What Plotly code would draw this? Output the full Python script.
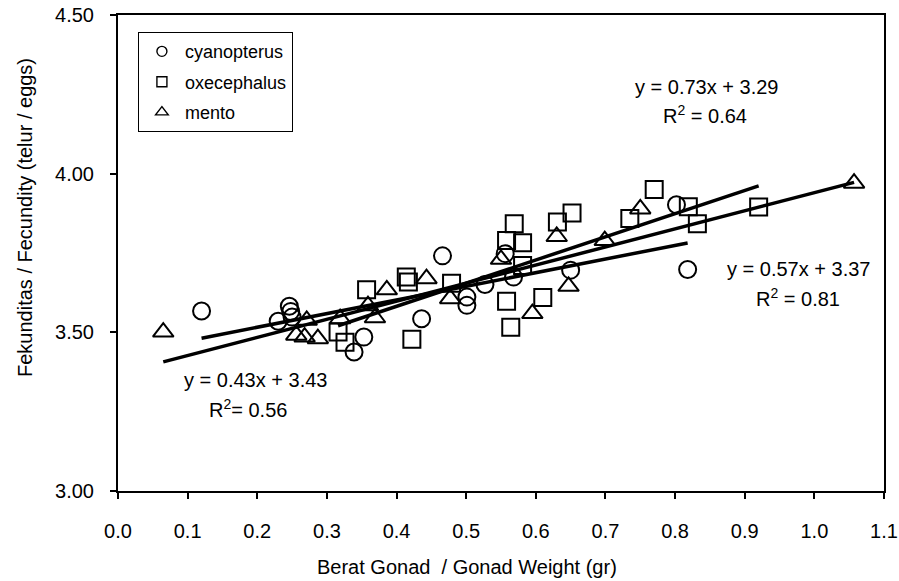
import plotly.graph_objects as go

# ---- data ----
cyan_x = [0.120, 0.246, 0.248, 0.230, 0.250, 0.339, 0.353, 0.436, 0.466, 0.501, 0.501,
          0.527, 0.556, 0.568, 0.650, 0.802, 0.818]
cyan_y = [3.567, 3.582, 3.566, 3.535, 3.548, 3.438, 3.485, 3.543, 3.741, 3.611, 3.585,
          3.651, 3.748, 3.674, 3.696, 3.902, 3.698]

oxe_x = [0.316, 0.326, 0.357, 0.414, 0.417, 0.422, 0.479, 0.558, 0.564, 0.569, 0.558,
         0.581, 0.581, 0.610, 0.631, 0.652, 0.735, 0.770, 0.819, 0.832, 0.920]
oxe_y = [3.501, 3.469, 3.634, 3.674, 3.659, 3.478, 3.655, 3.598, 3.516, 3.842, 3.789,
         3.782, 3.711, 3.610, 3.848, 3.876, 3.859, 3.950, 3.896, 3.842, 3.895]

mento_x = [0.065, 0.271, 0.256, 0.268, 0.287, 0.319, 0.359, 0.369, 0.386, 0.443, 0.477,
           0.550, 0.595, 0.630, 0.647, 0.699, 0.750, 1.057]
mento_y = [3.501, 3.538, 3.491, 3.485, 3.480, 3.543, 3.584, 3.546, 3.634, 3.669, 3.606,
           3.730, 3.559, 3.802, 3.645, 3.789, 3.889, 3.970]

series_names = ["cyanopterus", "oxecephalus", "mento"]
slopes = [0.43, 0.73, 0.57]
intercepts = [3.43, 3.29, 3.37]
r2_values = ["0.56", "0.64", "0.81"]

x_ticks = [0.0, 0.1, 0.2, 0.3, 0.4, 0.5, 0.6, 0.7, 0.8, 0.9, 1.0, 1.1]
x_tick_text = ["0.0", "0.1", "0.2", "0.3", "0.4", "0.5", "0.6", "0.7", "0.8", "0.9", "1.0", "1.1"]
y_ticks = [3.0, 3.5, 4.0, 4.5]
y_tick_text = ["3.00", "3.50", "4.00", "4.50"]

FONT = "Liberation Sans, Arial, sans-serif"
data = [(cyan_x, cyan_y), (oxe_x, oxe_y), (mento_x, mento_y)]
symbols = ["circle-open", "square-open", "triangle-up-open"]
sizes = [17, 17, 18]
legend_sizes = [10, 10, 11]

fig = go.Figure()

# regression lines
for (xs, ys), m, b in zip(data, slopes, intercepts):
    x0, x1 = min(xs), max(xs)
    fig.add_trace(go.Scatter(x=[x0, x1], y=[m * x0 + b, m * x1 + b], mode="lines",
                             line=dict(color="black", width=3.5), showlegend=False,
                             hoverinfo="skip"))

# scatter points
for (xs, ys), name, sym, sz in zip(data, series_names, symbols, sizes):
    fig.add_trace(go.Scatter(x=xs, y=ys, mode="markers", name=name, showlegend=False,
                             marker=dict(symbol=sym, size=sz, color="black",
                                         line=dict(color="black", width=2))))

# legend-only entries (small symbols)
for name, sym, g, sz in zip(series_names, symbols, ["a", "b", "c"], legend_sizes):
    fig.add_trace(go.Scatter(x=[None], y=[None], mode="markers", name=name,
                             legendgroup=g,
                             marker=dict(symbol=sym, size=sz, color="black",
                                         line=dict(color="black", width=1.4))))

ann_font = dict(family=FONT, size=20, color="black")
annotations = [
    dict(x=0.845, y=4.274, text="y = 0.73x + 3.29"),
    dict(x=0.843, y=4.185, text="R<sup>2</sup> = " + r2_values[1]),
    dict(x=0.977, y=3.701, text="y = 0.57x + 3.37"),
    dict(x=0.977, y=3.611, text="R<sup>2</sup> = " + r2_values[2]),
    dict(x=0.198, y=3.349, text="y = 0.43x + 3.43"),
    dict(x=0.187, y=3.259, text="R<sup>2</sup>= " + r2_values[0]),
]
for a in annotations:
    a.update(xref="x", yref="y", showarrow=False, font=ann_font)

annotations.append(dict(xref="paper", yref="paper", x=(467 - 118) / 766, y=(491 - 567) / 476,
                        text="Berat Gonad \u00a0/ Gonad Weight (gr)", showarrow=False,
                        font=ann_font, xanchor="center", yanchor="middle"))
annotations.append(dict(xref="paper", yref="paper", x=(25 - 118) / 766, y=(491 - 218) / 476,
                        text="Fekunditas / Fecundity (telur / eggs)", showarrow=False,
                        textangle=-90, font=ann_font, xanchor="center", yanchor="middle"))

fig.update_layout(
    width=899, height=581,
    margin=dict(l=118, r=15, t=15, b=90),
    plot_bgcolor="white", paper_bgcolor="white",
    font=dict(family=FONT, size=20, color="black"),
    annotations=annotations,
    legend=dict(x=0.026, y=0.964, xanchor="left", yanchor="top",
                bgcolor="white", bordercolor="black", borderwidth=1,
                font=dict(family=FONT, size=18, color="black"),
                tracegroupgap=4, traceorder="grouped", itemwidth=36,
                entrywidth=135, entrywidthmode="pixels"),
)
fig.update_xaxes(range=[0, 1.1], tickvals=x_ticks, ticktext=x_tick_text, automargin=False,
                 showgrid=False, zeroline=False, showline=True, linecolor="black",
                 linewidth=2, mirror=True, ticks="outside", ticklen=6, tickwidth=1.5,
                 tickcolor="black", ticklabelstandoff=15)
fig.update_yaxes(range=[3.0, 4.5], tickvals=y_ticks, ticktext=y_tick_text, automargin=False,
                 showgrid=False, zeroline=False, showline=True, linecolor="black",
                 linewidth=2, mirror=True, ticks="outside", ticklen=6, tickwidth=1.5,
                 tickcolor="black", ticklabelstandoff=12)

fig.write_html("out.html")
